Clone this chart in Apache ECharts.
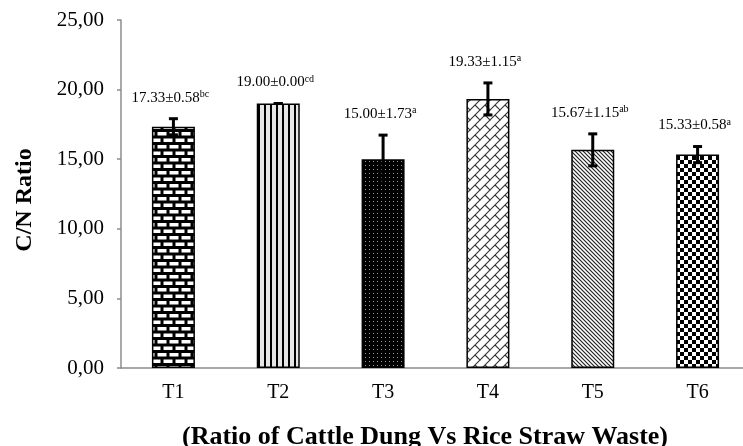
<!DOCTYPE html>
<html>
<head>
<meta charset="utf-8">
<script src="https://cdn.jsdelivr.net/npm/echarts@6/dist/echarts.min.js"></script>
<style>
  html, body { margin: 0; padding: 0; background: #fff; }
  #chart { width: 743px; height: 446px; }
</style>
</head>
<body>
<div id="chart"></div>
<script>
// data
var categories = ['T1', 'T2', 'T3', 'T4', 'T5', 'T6'];
var means = [17.33, 19.00, 15.00, 19.33, 15.67, 15.33];
var errors = [0.58, 0.00, 1.73, 1.15, 1.15, 0.58];
var letters = ['bc', 'cd', 'a', 'a', 'ab', 'a'];

var serif = '"Liberation Serif", "DejaVu Serif", serif';

// small canvas tiles used as bar fill patterns
function tile(w, h, draw) {
  var c = document.createElement('canvas');
  c.width = w; c.height = h;
  var ctx = c.getContext('2d');
  draw(ctx, w, h);
  return { image: c, repeat: 'repeat' };
}

var patterns = [
  // T1 bricks
  tile(12, 13, function (ctx, w, h) {
    ctx.fillStyle = '#000'; ctx.fillRect(0, 0, w, h);
    ctx.fillStyle = '#fff';
    ctx.fillRect(1.5, 2, 9, 3.5);
    ctx.fillRect(7.5, 8.5, 9, 3.5);
    ctx.fillRect(-4.5, 8.5, 9, 3.5);
  }),
  // T2 vertical stripes
  tile(6, 2, function (ctx, w, h) {
    ctx.fillStyle = '#e6e6e6'; ctx.fillRect(0, 0, w, h);
    ctx.fillStyle = '#000'; ctx.fillRect(0, 0, 2, h);
  }),
  // T3 black with small dots
  tile(4, 4, function (ctx, w, h) {
    ctx.fillStyle = '#000'; ctx.fillRect(0, 0, w, h);
    ctx.fillStyle = '#9a9a9a'; ctx.fillRect(1, 1, 1, 1);
  }),
  // T4 diagonal brick
  tile(10, 10, function (ctx, w, h) {
    ctx.fillStyle = '#fff'; ctx.fillRect(0, 0, w, h);
    ctx.strokeStyle = '#333'; ctx.lineWidth = 1.1;
    ctx.beginPath();
    ctx.moveTo(-1, 11); ctx.lineTo(11, -1);
    ctx.moveTo(5, 5); ctx.lineTo(10, 10);
    ctx.moveTo(0, 0); ctx.lineTo(0.5, 0.5);
    ctx.stroke();
  }),
  // T5 dense diagonal lines
  tile(4, 4, function (ctx, w, h) {
    ctx.fillStyle = '#fff'; ctx.fillRect(0, 0, w, h);
    ctx.strokeStyle = '#222'; ctx.lineWidth = 1.2;
    ctx.beginPath();
    ctx.moveTo(-1, -1); ctx.lineTo(5, 5);
    ctx.moveTo(3, -1); ctx.lineTo(5, 1);
    ctx.moveTo(-1, 3); ctx.lineTo(1, 5);
    ctx.stroke();
  }),
  // T6 checkerboard
  tile(8, 8, function (ctx, w, h) {
    ctx.fillStyle = '#fff'; ctx.fillRect(0, 0, w, h);
    ctx.fillStyle = '#000';
    ctx.fillRect(0, 0, 4, 4);
    ctx.fillRect(4, 4, 4, 4);
  })
];

var barData = means.map(function (v, i) {
  return { value: v, itemStyle: { color: patterns[i] } };
});
var errData = means.map(function (v, i) { return [i, v, errors[i]]; });

var chart = echarts.init(document.getElementById('chart'));

var option = {
  backgroundColor: '#fff',
  animation: false,
  grid: { left: 121, top: 20, width: 629, height: 348, outerBoundsMode: 'none' },
  xAxis: {
    type: 'category',
    data: categories,
    axisLine: { lineStyle: { color: '#8c8c8c', width: 1.5 } },
    axisTick: { length: 4, lineStyle: { color: '#8c8c8c', width: 1.5 } },
    axisLabel: { color: '#000', fontFamily: serif, fontSize: 20, margin: 15 }
  },
  yAxis: {
    type: 'value',
    min: 0, max: 25, interval: 5,
    splitLine: { show: false },
    axisLine: { show: true, lineStyle: { color: '#8c8c8c', width: 1.5 } },
    axisTick: { show: true, length: 4, lineStyle: { color: '#8c8c8c', width: 1.5 } },
    axisLabel: {
      color: '#000', fontFamily: serif, fontSize: 21, margin: 17,
      formatter: function (v) { return v.toFixed(2).replace('.', ','); }
    }
  },
  series: [
    {
      type: 'bar',
      data: barData,
      barWidth: 43,
      itemStyle: { borderColor: '#000', borderWidth: 1.5 }
    },
    {
      type: 'custom',
      data: errData,
      z: 10,
      renderItem: function (params, api) {
        var i = api.value(0), m = api.value(1), e = api.value(2);
        var top = api.coord([i, m + e]);
        var bot = api.coord([i, m - e]);
        var x = top[0], cap = 4.5;
        var txt = m.toFixed(2) + '\u00b1' + e.toFixed(2);
        return {
          type: 'group',
          children: [
            { type: 'line', shape: { x1: x, y1: top[1], x2: x, y2: bot[1] }, style: { stroke: '#000', lineWidth: 3 } },
            { type: 'line', shape: { x1: x - cap, y1: top[1], x2: x + cap, y2: top[1] }, style: { stroke: '#000', lineWidth: 3 } },
            { type: 'line', shape: { x1: x - cap, y1: bot[1], x2: x + cap, y2: bot[1] }, style: { stroke: '#000', lineWidth: 3 } },
            {
              type: 'text',
              x: x - 3, y: top[1] - 21,
              style: {
                text: '{m|' + txt + '}{s|' + letters[i] + '}',
                align: 'center', verticalAlign: 'middle',
                rich: {
                  m: { fontSize: 15, fontFamily: serif, fill: '#000', lineHeight: 17 },
                  s: { fontSize: 10, fontFamily: serif, fill: '#000', verticalAlign: 'top', lineHeight: 17 }
                }
              }
            }
          ]
        };
      }
    }
  ],
  graphic: [
    {
      type: 'text', x: 25, y: 200, rotation: Math.PI / 2,
      style: { text: 'C/N Ratio', fontFamily: serif, fontWeight: 'bold', fontSize: 24, fill: '#000', align: 'center', verticalAlign: 'middle' }
    },
    {
      type: 'text', x: 425, y: 437,
      style: { text: '(Ratio of Cattle Dung Vs Rice Straw Waste)', fontFamily: serif, fontWeight: 'bold', fontSize: 26, fill: '#000', align: 'center', verticalAlign: 'middle' }
    }
  ]
};

chart.setOption(option);
</script>
</body>
</html>
